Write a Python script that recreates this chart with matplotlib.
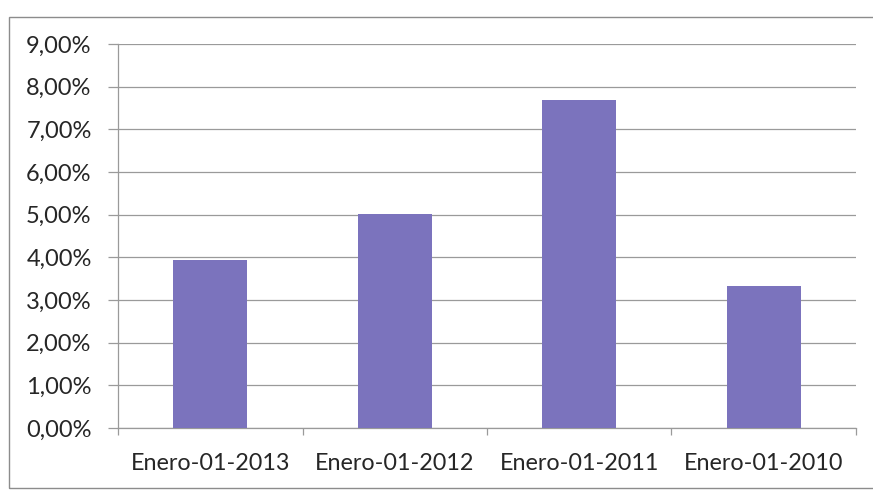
import matplotlib.pyplot as plt
from matplotlib.patches import Rectangle
from matplotlib.ticker import FixedLocator, FuncFormatter

# Variación por fecha de corte
fechas = ["Enero-01-2013", "Enero-01-2012", "Enero-01-2011", "Enero-01-2010"]
valores = [3.94, 5.02, 7.68, 3.33]  # en %

bar_color = "#7B73BD"
grid_color = "#9a9a9a"
text_color = "#262626"

plt.rcParams["font.family"] = ["Lato", "DejaVu Sans"]

fig = plt.figure(figsize=(8.73, 4.93), dpi=100)
ax = fig.add_axes([0.1352, 0.1318, 0.9805 - 0.1352, 0.9108 - 0.1318])

x = range(len(fechas))
ax.bar(x, valores, width=0.4, color=bar_color, zorder=3)

ax.set_xlim(-0.5, len(fechas) - 0.5)
ax.set_ylim(0, 9)
ax.set_yticks(range(0, 10))
ax.yaxis.set_major_formatter(FuncFormatter(lambda v, p: f"{v:.2f}%".replace(".", ",")))
ax.grid(axis="y", color=grid_color, linewidth=0.9, zorder=0)

ax.set_xticks(list(x))
ax.set_xticklabels(fechas)
ax.xaxis.set_minor_locator(FixedLocator([i - 0.5 for i in range(len(fechas) + 1)]))
ax.tick_params(axis="x", which="major", length=0, pad=18, labelsize=16.8, labelcolor=text_color)
ax.tick_params(axis="x", which="minor", length=5, width=0.9, color=grid_color, direction="out")
ax.tick_params(axis="y", length=7, width=0.9, color=grid_color, pad=12, labelsize=17,
               labelcolor=text_color)

for side in ["top", "right"]:
    ax.spines[side].set_visible(False)
for side in ["left", "bottom"]:
    ax.spines[side].set_color(grid_color)
    ax.spines[side].set_linewidth(0.9)

# marco exterior del gráfico
fig.patches.append(Rectangle((0.0103, 0.0101), 1.1, 0.9655 - 0.0101, transform=fig.transFigure,
                             fill=False, edgecolor="#8c8c8c", linewidth=1.0))

fig.savefig("out.png", dpi=100)
